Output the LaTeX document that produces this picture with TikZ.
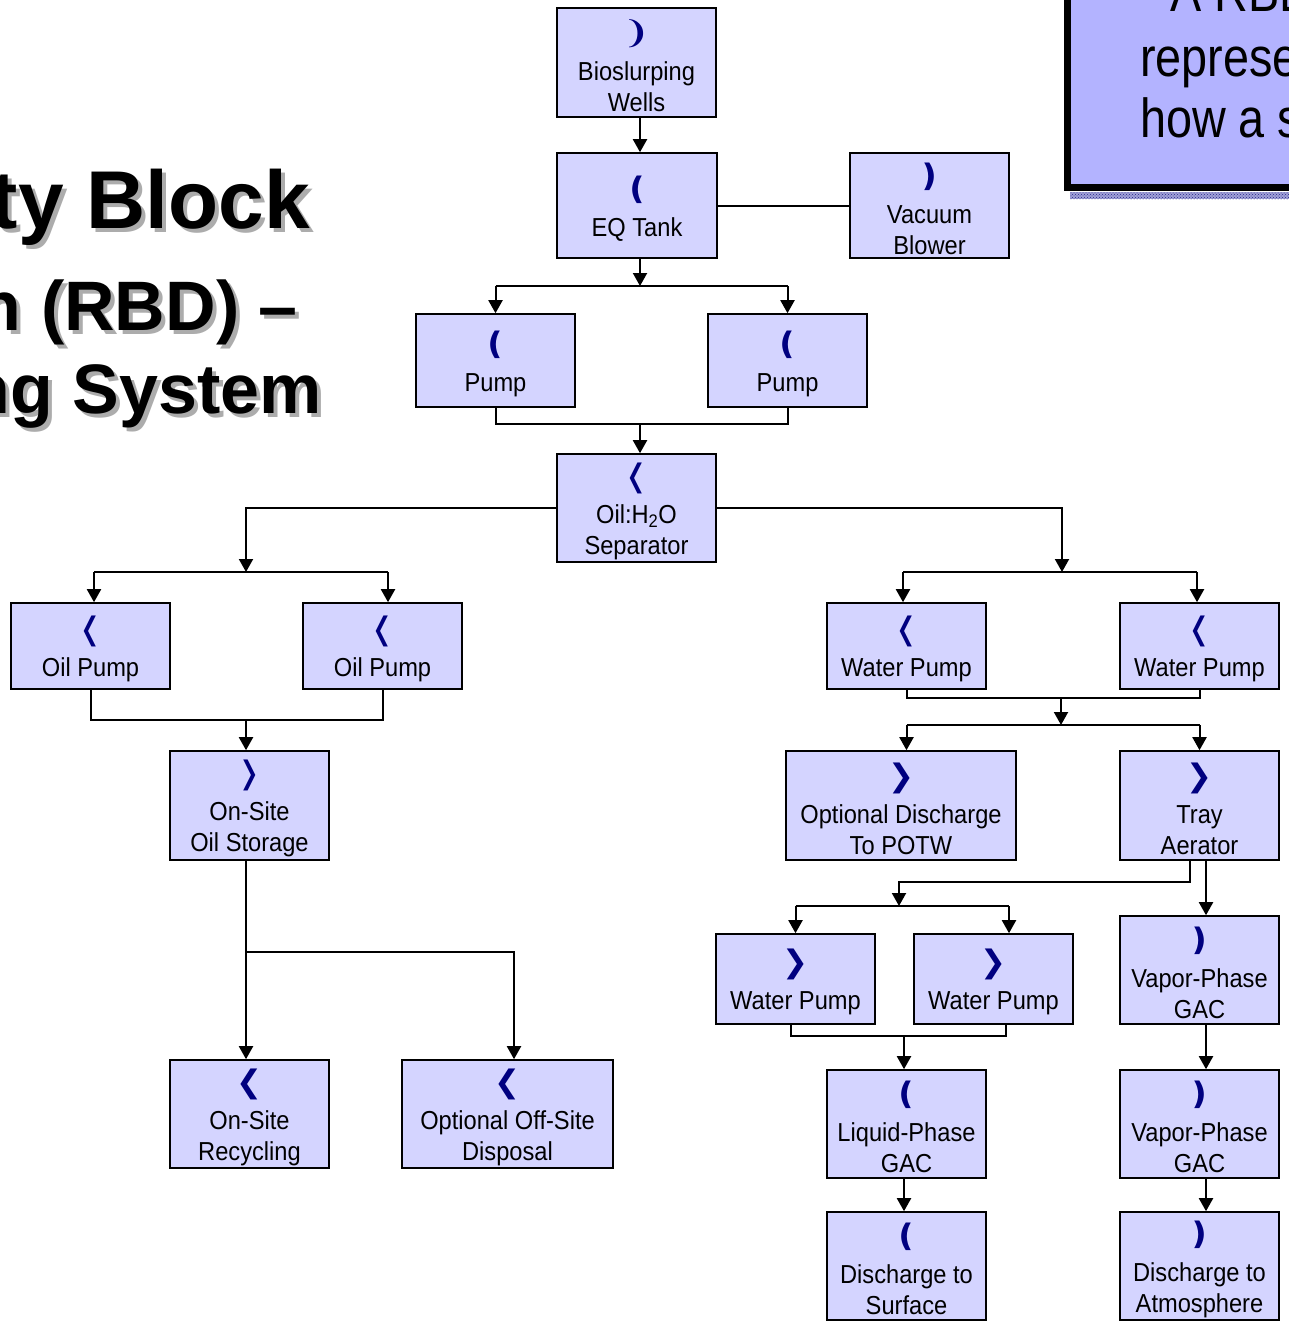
\documentclass[tikz,border=0pt]{standalone}
\usepackage{fontspec}
\usetikzlibrary{arrows.meta,patterns}
\newfontfamily\boxfont[FakeStretch=0.91]{Liberation Sans}
\newfontfamily\notefont[FakeStretch=0.85]{Liberation Sans}
\newfontfamily\symfont{DejaVu Sans}
\newfontfamily\headfont{Liberation Sans}
\definecolor{boxfill}{RGB}{212,212,255}
\definecolor{navymark}{RGB}{0,0,128}
\definecolor{notefill}{RGB}{179,179,255}
\definecolor{shadowgray}{RGB}{172,172,172}
\definecolor{noteshadow}{RGB}{40,40,140}
\definecolor{noteshadowbg}{RGB}{160,160,215}
% block marker glyph; its declared height is padded so the label lines sit lower
\newcommand{\mk}[1]{\raisebox{0pt}[\dimexpr\height+6pt\relax][0pt]{\symfont\fontsize{31}{31}\selectfont\color{navymark}#1}\\[6pt]}
\begin{document}
\begin{tikzpicture}[x=1pt,y=-1pt,
  blk/.style={draw, line width=1.6pt, fill=boxfill, align=center, inner sep=0pt,
    font=\boxfont\fontsize{26}{31}\selectfont},
  ln/.style={line width=2pt},
  arr/.style={line width=2pt, -{Triangle[width=14pt,length=13pt]}},
  headline/.style={font=\headfont\bfseries, inner sep=0pt, anchor=base east},
  bighead/.style={headline, font=\headfont\bfseries\fontsize{82}{90}\selectfont},
  smallhead/.style={headline, font=\headfont\bfseries\fontsize{70}{80}\selectfont},
  noteline/.style={font=\notefont\fontsize{55}{60}\selectfont, inner sep=0pt, anchor=base west}]
\useasboundingbox (0,0) rectangle (1289,1330);
\fill[white] (0,0) rectangle (1289,1330);
\clip (0,0) rectangle (1289,1330);

% heading, with its drop shadow
\node[bighead, text=shadowgray] (h1s) at (314,232) {ty Block};
\node[bighead] (h1) at (310,228) {ty Block};
\node[smallhead, text=shadowgray] (h2s) at (302,334) {n (RBD) –};
\node[smallhead] (h2) at (298,330) {n (RBD) –};
\node[smallhead, text=shadowgray] (h3s) at (326,417) {ng System};
\node[smallhead] (h3) at (322,413) {ng System};

% note box in the corner, with its dotted shadow strip
\fill[noteshadowbg] (1070,192) rectangle (1300,199);
\fill[pattern=crosshatch dots, pattern color=noteshadow] (1070,192) rectangle (1300,199);
\draw[line width=7pt, fill=notefill] (1067.5,-30) rectangle (1320,187.5);
\node[noteline] (n1) at (1170,12) {A RBD};
\node[noteline] (n2) at (1140,77) {represe};
\node[noteline] (n3) at (1140,137) {how a s};

% blocks
\node[blk, minimum width=159pt, minimum height=109pt] (bw) at (636.5,62.5) {\mk{❩}Bioslurping\\Wells};
\node[blk, minimum width=160pt, minimum height=105pt] (eq) at (637,205.5) {\mk{❪}EQ Tank};
\node[blk, minimum width=159pt, minimum height=105pt] (vb) at (929.5,205.5) {\mk{❫}Vacuum\\Blower};
\node[blk, minimum width=159pt, minimum height=93pt] (pL) at (495.5,360.5) {\mk{❪}Pump};
\node[blk, minimum width=159pt, minimum height=93pt] (pR) at (787.5,360.5) {\mk{❪}Pump};
\node[blk, minimum width=159pt, minimum height=108pt] (sep) at (636.5,508) {\mk{❬}Oil:H\textsubscript{2}O\\Separator};
\node[blk, minimum width=159pt, minimum height=86pt] (op1) at (90.5,646) {\mk{❬}Oil Pump};
\node[blk, minimum width=159pt, minimum height=86pt] (op2) at (382.5,646) {\mk{❬}Oil Pump};
\node[blk, minimum width=159pt, minimum height=86pt] (wp1) at (906.5,646) {\mk{❬}Water Pump};
\node[blk, minimum width=159pt, minimum height=86pt] (wp2) at (1199.5,646) {\mk{❬}Water Pump};
\node[blk, minimum width=159pt, minimum height=109pt] (oos) at (249.5,805.5) {\mk{❭}On-Site\\Oil Storage};
\node[blk, minimum width=230pt, minimum height=109pt] (odp) at (901,805.5) {\mk{❯}Optional Discharge\\To POTW};
\node[blk, minimum width=159pt, minimum height=109pt] (ta) at (1199.5,805.5) {\mk{❯}Tray\\Aerator};
\node[blk, minimum width=159pt, minimum height=90pt] (wp3) at (795.5,979) {\mk{❯}Water Pump};
\node[blk, minimum width=159pt, minimum height=90pt] (wp4) at (993.5,979) {\mk{❯}Water Pump};
\node[blk, minimum width=159pt, minimum height=108pt] (vg1) at (1199.5,970) {\mk{❫}Vapor-Phase\\GAC};
\node[blk, minimum width=159pt, minimum height=108pt] (lg) at (906.5,1124) {\mk{❪}Liquid-Phase\\GAC};
\node[blk, minimum width=159pt, minimum height=108pt] (vg2) at (1199.5,1124) {\mk{❫}Vapor-Phase\\GAC};
\node[blk, minimum width=159pt, minimum height=108pt] (ds) at (906.5,1266) {\mk{❪}Discharge to\\Surface};
\node[blk, minimum width=159pt, minimum height=108pt] (da) at (1199.5,1266) {\mk{❫}Discharge to\\Atmosphere};
\node[blk, minimum width=159pt, minimum height=108pt] (rec) at (249.5,1114) {\mk{❮}On-Site\\Recycling};
\node[blk, minimum width=211pt, minimum height=108pt] (off) at (507.5,1114) {\mk{❮}Optional Off-Site\\Disposal};

% junction points
\coordinate (j1) at (640,286);
\coordinate (j2) at (640,424);
\coordinate (j3) at (246,572);
\coordinate (j4) at (1062,572);
\coordinate (j5) at (246,720);
\coordinate (j6) at (1061,698);
\coordinate (j7) at (1061,725);
\coordinate (j8) at (899,882);
\coordinate (j9) at (899,906);
\coordinate (j10) at (904,1036);
\coordinate (j11) at (246,952);
\coordinate (j12) at (1206,0);

% upper train
\draw[arr] (bw.south -| j1) -- (eq.north -| j1);
\draw[ln] (eq.east) -- (vb.west);
\draw[arr] (eq.south -| j1) -- (j1);
\draw[ln] (pL.north |- j1) -- (pR.north |- j1);
\draw[arr] (pL.north |- j1) -- (pL.north);
\draw[arr] (pR.north |- j1) -- (pR.north);
\draw[ln] (pL.south) -- (pL.south |- j2) -- (pR.south |- j2) -- (pR.south);
\draw[arr] (j2) -- (sep.north -| j2);

% oil branch
\draw[arr] (sep.west) -| (j3);
\draw[ln] ([xshift=3.5pt]op1.north |- j3) -- ([xshift=5.5pt]op2.north |- j3);
\draw[arr] ([xshift=3.5pt]op1.north |- j3) -- ([xshift=3.5pt]op1.north);
\draw[arr] ([xshift=5.5pt]op2.north |- j3) -- ([xshift=5.5pt]op2.north);
\draw[ln] (op1.south) -- (op1.south |- j5) -- (op2.south |- j5) -- (op2.south);
\draw[arr] (j5) -- (oos.north -| j5);
\draw[arr] (oos.south -| j11) -- (rec.north -| j11);
\draw[arr] (j11) -| (off.north -| 514,0);

% water branch
\draw[arr] (sep.east) -| (j4);
\draw[ln] ([xshift=-3.5pt]wp1.north |- j4) -- ([xshift=-2.5pt]wp2.north |- j4);
\draw[arr] ([xshift=-3.5pt]wp1.north |- j4) -- ([xshift=-3.5pt]wp1.north);
\draw[arr] ([xshift=-2.5pt]wp2.north |- j4) -- ([xshift=-2.5pt]wp2.north);
\draw[ln] (wp1.south) -- (wp1.south |- j6) -- (wp2.south |- j6) -- (wp2.south);
\draw[arr] (j6) -- (j7);
\draw[ln] (wp1.south |- j7) -- (ta.north |- j7);
\draw[arr] (wp1.south |- j7) -- (wp1.south |- odp.north);
\draw[arr] (ta.north |- j7) -- (ta.north);

% tray aerator outlets
\draw[arr] ([xshift=-9.5pt]ta.south) |- (j8) -- (j9);
\draw[ln] (wp3.north |- j9) -- ([xshift=15.5pt]wp4.north |- j9);
\draw[arr] (wp3.north |- j9) -- (wp3.north);
\draw[arr] ([xshift=15.5pt]wp4.north |- j9) -- ([xshift=15.5pt]wp4.north);
\draw[arr] (ta.south -| j12) -- (vg1.north -| j12);
\draw[ln] ([xshift=-4.5pt]wp3.south) |- ([xshift=12.5pt]wp4.south |- j10) -- ([xshift=12.5pt]wp4.south);
\draw[arr] (j10) -- (lg.north -| j10);
\draw[arr] (vg1.south -| j12) -- (vg2.north -| j12);
\draw[arr] (lg.south -| j10) -- (ds.north -| j10);
\draw[arr] (vg2.south -| j12) -- (da.north -| j12);
\end{tikzpicture}
\end{document}
